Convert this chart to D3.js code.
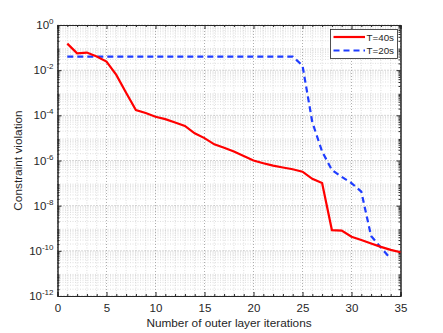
<!DOCTYPE html>
<html>
<head>
<meta charset="utf-8">
<script src="https://cdn.jsdelivr.net/npm/d3@7"></script>
<style>
body { margin: 0; background: #fff; }
text { font-family: "Liberation Sans", Arial, sans-serif; fill: #262626; }
</style>
</head>
<body>
<div id="chart"></div>
<script>
var w = 443;
var h = 333;
var margin = { left: 57.5, right: 42.5, top: 25, bottom: 37 };

// data
var iter40 = d3.range(1, 36);
var viol40 = [0.15, 0.056, 0.06, 0.04, 0.024, 0.0062, 1.0e-3, 1.7e-4, 1.26e-4, 8.7e-5,
    6.8e-5, 4.8e-5, 3.4e-5, 1.6e-5, 9.8e-6, 5.2e-6, 3.7e-6, 2.5e-6, 1.6e-6, 1.0e-6,
    7.6e-7, 5.9e-7, 4.9e-7, 4.1e-7, 3.2e-7, 1.55e-7, 1.0e-7, 8.3e-10, 7.9e-10, 4.2e-10,
    3.0e-10, 2.1e-10, 1.5e-10, 1.1e-10, 8.7e-11];
var iter20 = d3.range(1, 35);
var viol20 = [0.04, 0.04, 0.04, 0.04, 0.04, 0.04, 0.04, 0.04, 0.04, 0.04,
    0.04, 0.04, 0.04, 0.04, 0.04, 0.04, 0.04, 0.04, 0.04, 0.04,
    0.04, 0.04, 0.04, 0.04, 0.016, 5e-5, 2.5e-6, 3.8e-7, 1.9e-7, 1.0e-7,
    4.2e-8, 4.5e-10, 1.4e-10, 4.5e-11];
var seriesNames = ["T=40s", "T=20s"];
var xTicks = [0, 5, 10, 15, 20, 25, 30, 35];
var yExps = [0, -2, -4, -6, -8, -10, -12];

var svg = d3.select("#chart")
    .append("svg")
    .attr("width", w)
    .attr("height", h);

var xScale = d3.scaleLinear()
    .domain([0, 35])
    .range([margin.left, w - margin.right]);

var yScale = d3.scaleLog()
    .domain([1e-12, 1])
    .range([h - margin.bottom, margin.top]);

var x0 = margin.left, x1 = w - margin.right;
var y0 = h - margin.bottom, y1 = margin.top;

// minor values
var xMinor = d3.range(0, 36).filter(function (d) { return d % 5 != 0; });
var yMinor = [];
for (var e = -12; e < 0; e++) {
    for (var k = 2; k <= 9; k++) yMinor.push(k * Math.pow(10, e));
}
var yMajor = yExps.map(function (e) { return Math.pow(10, e); });

// grid
var grid = svg.append("g");
grid.selectAll(".xminor").data(xMinor).enter().append("line")
    .attr("x1", function (d) { return xScale(d); })
    .attr("x2", function (d) { return xScale(d); })
    .attr("y1", y0).attr("y2", y1)
    .attr("stroke", "#d0d0d0").attr("stroke-dasharray", "1,1.5").attr("stroke-width", 0.7);
grid.selectAll(".yminor").data(yMinor).enter().append("line")
    .attr("y1", function (d) { return yScale(d); })
    .attr("y2", function (d) { return yScale(d); })
    .attr("x1", x0).attr("x2", x1)
    .attr("stroke", "#d0d0d0").attr("stroke-dasharray", "1,1.5").attr("stroke-width", 0.7);
grid.selectAll(".xmajor").data(xTicks).enter().append("line")
    .attr("x1", function (d) { return xScale(d); })
    .attr("x2", function (d) { return xScale(d); })
    .attr("y1", y0).attr("y2", y1)
    .attr("stroke", "#9a9a9a").attr("stroke-dasharray", "1,2").attr("stroke-width", 0.8);
grid.selectAll(".ymajor").data(yMajor).enter().append("line")
    .attr("y1", function (d) { return yScale(d); })
    .attr("y2", function (d) { return yScale(d); })
    .attr("x1", x0).attr("x2", x1)
    .attr("stroke", "#9a9a9a").attr("stroke-dasharray", "1,2").attr("stroke-width", 0.8);

// axes (ticks inside, mirrored)
function styleAxis(g) {
    g.select(".domain").attr("stroke", "#262626");
    g.selectAll(".tick line").attr("stroke", "#262626");
}
var xAxis = d3.axisBottom(xScale).tickValues(xTicks).tickSize(-4).tickPadding(8);
svg.append("g").attr("transform", "translate(0," + y0 + ")").call(xAxis)
    .call(styleAxis)
    .selectAll("text").attr("font-size", "11.5px").attr("fill", "#262626")
    .attr("font-family", "Liberation Sans, Arial, sans-serif");
svg.append("g").attr("transform", "translate(0," + y1 + ")")
    .call(d3.axisTop(xScale).tickValues(xTicks).tickSize(-4).tickFormat(""))
    .call(styleAxis);
svg.append("g").attr("transform", "translate(0," + y0 + ")")
    .call(d3.axisBottom(xScale).tickValues(xMinor).tickSize(-2).tickFormat(""))
    .call(styleAxis);
svg.append("g").attr("transform", "translate(0," + y1 + ")")
    .call(d3.axisTop(xScale).tickValues(xMinor).tickSize(-2).tickFormat(""))
    .call(styleAxis);

svg.append("g").attr("transform", "translate(" + x0 + ",0)")
    .call(d3.axisLeft(yScale).tickValues(yMajor).tickSize(-4).tickFormat(""))
    .call(styleAxis);
svg.append("g").attr("transform", "translate(" + x1 + ",0)")
    .call(d3.axisRight(yScale).tickValues(yMajor).tickSize(-4).tickFormat(""))
    .call(styleAxis);
svg.append("g").attr("transform", "translate(" + x0 + ",0)")
    .call(d3.axisLeft(yScale).tickValues(yMinor).tickSize(-2).tickFormat(""))
    .call(styleAxis);
svg.append("g").attr("transform", "translate(" + x1 + ",0)")
    .call(d3.axisRight(yScale).tickValues(yMinor).tickSize(-2).tickFormat(""))
    .call(styleAxis);

// y tick labels 10^n
var ylab = svg.selectAll(".ylab").data(yExps).enter().append("text")
    .attr("x", x0 - 4)
    .attr("y", function (d) { return yScale(Math.pow(10, d)) + 4; })
    .attr("text-anchor", "end")
    .attr("font-size", "11.5px");
ylab.append("tspan").text("10");
ylab.append("tspan").attr("dy", -5).attr("font-size", "8px").text(function (d) { return d; });

// axis titles
svg.append("text")
    .attr("x", (x0 + x1) / 2)
    .attr("y", 327)
    .attr("text-anchor", "middle")
    .attr("font-size", "11.8px")
    .text("Number of outer layer iterations");
svg.append("text")
    .attr("transform", "translate(22," + ((y0 + y1) / 2) + ") rotate(-90)")
    .attr("text-anchor", "middle")
    .attr("font-size", "11.8px")
    .text("Constraint violation");

// lines
var line = d3.line()
    .x(function (d) { return xScale(d[0]); })
    .y(function (d) { return yScale(d[1]); });

svg.append("path")
    .datum(d3.zip(iter20, viol20))
    .attr("d", line)
    .attr("fill", "none")
    .attr("stroke", "#1f3dff")
    .attr("stroke-width", 2.2)
    .attr("stroke-dasharray", "6,4");

svg.append("path")
    .datum(d3.zip(iter40, viol40))
    .attr("d", line)
    .attr("fill", "none")
    .attr("stroke", "#ff0000")
    .attr("stroke-width", 2.2);

// legend
var legend = svg.append("g");
legend.append("rect")
    .attr("x", 330.5).attr("y", 29.5)
    .attr("width", 67).attr("height", 29)
    .attr("fill", "#fff").attr("stroke", "#262626").attr("stroke-width", 0.8);
var legColors = ["#ff0000", "#1f3dff"];
var legDash = [null, "6,4"];
legend.selectAll(".lline").data(seriesNames).enter().append("line")
    .attr("x1", 333.5).attr("x2", 365)
    .attr("y1", function (d, i) { return 37 + i * 13.5; })
    .attr("y2", function (d, i) { return 37 + i * 13.5; })
    .attr("stroke", function (d, i) { return legColors[i]; })
    .attr("stroke-dasharray", function (d, i) { return legDash[i]; })
    .attr("stroke-width", 2.2);
legend.selectAll(".ltext").data(seriesNames).enter().append("text")
    .attr("x", 366.5)
    .attr("y", function (d, i) { return 40.5 + i * 13.5; })
    .attr("font-size", "9.8px")
    .text(function (d) { return d; });
</script>
</body>
</html>
